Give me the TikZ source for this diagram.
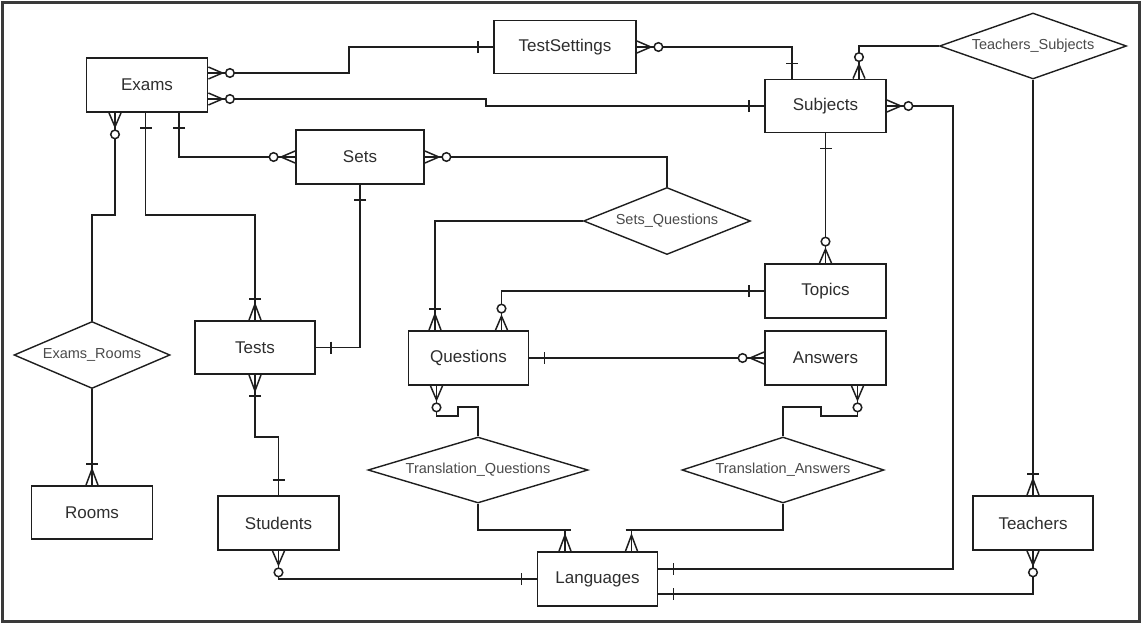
\documentclass[tikz,border=0pt]{standalone}
\usepackage{fontspec}
\setmainfont{Liberation Sans}
\usetikzlibrary{shapes.geometric}
\definecolor{ink}{HTML}{1E1E1E}
\definecolor{entitytext}{HTML}{2E2E2E}
\definecolor{reltext}{HTML}{4A4A4A}
\definecolor{framegray}{HTML}{3A3A3A}
\begin{document}
\begin{tikzpicture}[x=1pt,y=-1pt,
  entity/.style={draw=ink, line width=1.8pt, fill=white, minimum width=121pt,
    minimum height=54pt, inner sep=0pt, text=entitytext,
    font=\fontsize{17}{20}\selectfont},
  relation/.style={draw=ink, line width=1.4pt, diamond, aspect=2.8, inner sep=0pt,
    fill=white, text=reltext, font=\fontsize{14.5}{17}\selectfont},
  rel/.style={draw=ink, line width=1.5pt},
  % crow's foot end markers; the line leaves the entity along +x
  zmany/.pic={\draw[rel] (0,6) -- (14,0) -- (0,-6);
              \draw[rel, fill=white] (21.5,0) circle[radius=4.3pt];},
  omany/.pic={\draw[rel] (0,6) -- (16,0) -- (0,-6);
              \draw[rel] (21,-6) -- (21,6);},
  one/.pic={\draw[rel] (15,-6) -- (15,6);},
]
\useasboundingbox (0,0) rectangle (1144,624);
\draw[draw=framegray, line width=3pt] (2.5,2) rectangle (1139,621);

% entities
\node[entity] (exams) at (147,85) {Exams};
\node[entity, minimum width=128pt] (sets) at (360,157) {Sets};
\node[entity, minimum width=142pt, minimum height=53pt] (testsettings) at (565,47) {TestSettings};
\node[entity, minimum height=53pt] (subjects) at (825.5,106) {Subjects};
\node[entity] (topics) at (825.5,291) {Topics};
\node[entity] (answers) at (825.5,358) {Answers};
\node[entity, minimum width=120pt] (questions) at (468.5,358) {Questions};
\node[entity, minimum width=120pt, minimum height=53pt] (tests) at (255,347.5) {Tests};
\node[entity, minimum height=53pt] (rooms) at (92,512.5) {Rooms};
\node[entity] (students) at (278.5,523) {Students};
\node[entity, minimum width=120pt] (languages) at (597.5,579) {Languages};
\node[entity, minimum width=120pt] (teachers) at (1033,523) {Teachers};

% relationships
\node[relation, minimum width=187pt, minimum height=66pt] (tsub) at (1033,46) {Teachers\_Subjects};
\node[relation, minimum width=167pt, minimum height=67pt] (setq) at (667,221) {Sets\_Questions};
\node[relation, minimum width=156pt, minimum height=67pt] (exr) at (92,355) {Exams\_Rooms};
\node[relation, minimum width=220pt, minimum height=66pt] (trq) at (478,470) {Translation\_Questions};
\node[relation, minimum width=202pt, minimum height=66pt] (tra) at (783,470) {Translation\_Answers};

% connectors
\draw[rel] (exams.east |- 0,73) -- (349,73) |- (testsettings.west);
\draw[rel] (exams.east |- 0,99) -- (486,99) |- (subjects.west);
\draw[rel] (testsettings.east) -| (792,0 |- subjects.north);
\draw[rel] (tsub.west) -| (859,0 |- subjects.north);
\draw[rel] (tsub.south) -- (teachers.north);
\draw[rel] (subjects.east) -- (953,0 |- subjects.east) |- (languages.east |- 0,569);
\draw[rel] (teachers.south) |- (languages.east |- 0,594);
\draw[rel] (subjects.south) -- (topics.north);
\draw[rel] (topics.west) -| (501.5,0 |- questions.north);
\draw[rel] (answers.west) -- (questions.east);
\draw[rel] (setq.west) -| (435,0 |- questions.north);
\draw[rel] (sets.east) -| (setq.north);
\draw[rel] (179,0 |- exams.south) |- (sets.west);
\draw[rel] (145.5,0 |- exams.south) -- (145.5,215) -| (tests.north);
\draw[rel] (115,0 |- exams.south) -- (115,215) -| (exr.north);
\draw[rel] (exr.south) -- (rooms.north);
\draw[rel] (sets.south) |- (tests.east);
\draw[rel] (tests.south) -- (255,437) -| (students.north);
\draw[rel] (students.south) |- (languages.west);
\draw[rel] (436.5,0 |- questions.south) -- (436.5,416) -- (458,416) -- (458,407) -| (trq.north);
\draw[rel] (trq.south) -- (478,530) -| (565,0 |- languages.north);
\draw[rel] (tra.south) -- (783,530) -| (631.5,0 |- languages.north);
\draw[rel] (857.5,0 |- answers.south) -- (857.5,416) -- (821,416) -- (821,407) -| (tra.north);

% zero-or-many ends
\pic[rotate=0] at (exams.east |- 0,73) {zmany};
\pic[rotate=0] at (exams.east |- 0,99) {zmany};
\pic[rotate=0] at (testsettings.east) {zmany};
\pic[rotate=0] at (subjects.east) {zmany};
\pic[rotate=0] at (sets.east) {zmany};
\pic[rotate=90] at (859,0 |- subjects.north) {zmany};
\pic[rotate=90] at (topics.north) {zmany};
\pic[rotate=90] at (501.5,0 |- questions.north) {zmany};
\pic[rotate=180] at (answers.west) {zmany};
\pic[rotate=180] at (sets.west) {zmany};
\pic[rotate=-90] at (115,0 |- exams.south) {zmany};
\pic[rotate=-90] at (teachers.south) {zmany};
\pic[rotate=-90] at (students.south) {zmany};
\pic[rotate=-90] at (436.5,0 |- questions.south) {zmany};
\pic[rotate=-90] at (857.5,0 |- answers.south) {zmany};

% exactly-one ends
\pic[rotate=180] at (testsettings.west) {one};
\pic[rotate=180] at (subjects.west) {one};
\pic[rotate=180] at (topics.west) {one};
\pic[rotate=180] at (languages.west) {one};
\pic[rotate=90] at (792,0 |- subjects.north) {one};
\pic[rotate=90] at (students.north) {one};
\pic[rotate=-90] at (subjects.south) {one};
\pic[rotate=-90] at (179,0 |- exams.south) {one};
\pic[rotate=-90] at (145.5,0 |- exams.south) {one};
\pic[rotate=-90] at (sets.south) {one};
\pic[rotate=0] at (languages.east |- 0,569) {one};
\pic[rotate=0] at (languages.east |- 0,594) {one};
\pic[rotate=0] at (questions.east) {one};
\pic[rotate=0] at (tests.east) {one};

% one-or-many ends
\pic[rotate=90] at (teachers.north) {omany};
\pic[rotate=90] at (435,0 |- questions.north) {omany};
\pic[rotate=90] at (tests.north) {omany};
\pic[rotate=90] at (rooms.north) {omany};
\pic[rotate=90] at (565,0 |- languages.north) {omany};
\pic[rotate=90] at (631.5,0 |- languages.north) {omany};
\pic[rotate=-90] at (tests.south) {omany};
\end{tikzpicture}
\end{document}
